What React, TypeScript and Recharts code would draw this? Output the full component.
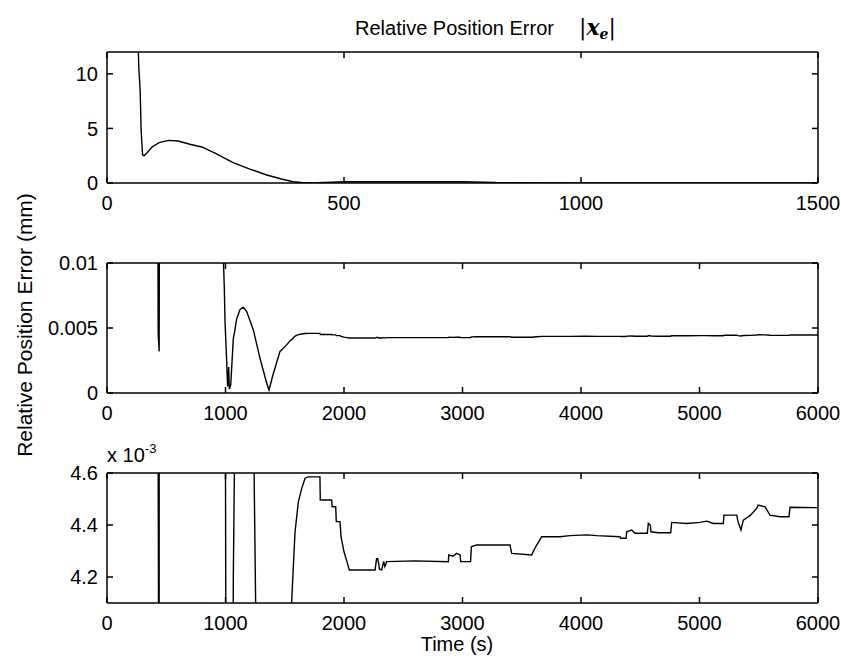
import { LineChart, Line, XAxis, YAxis } from "recharts";

// time (s) and relative position error (mm), one shared trace for all three panels
const timeS = [
  0, 60, 65, 67, 70, 72, 75, 78, 85, 95, 110, 130, 150, 175, 200, 230, 266, 300, 337, 370, 393, 410,
  424, 432, 440, 446, 500, 750, 820, 976, 990, 996, 1010, 1018, 1027, 1032, 1044, 1066, 1075, 1094,
  1122, 1150, 1179, 1235, 1291, 1348, 1367, 1404, 1460, 1516, 1545, 1558, 1573, 1587, 1615, 1643,
  1671, 1699, 1797, 1800, 1896, 1900, 1930, 1935, 1966, 1975, 2000, 2025, 2045, 2262, 2275, 2285,
  2300, 2318, 2335, 2345, 2360, 2600, 2880, 2885, 2920, 2950, 2980, 2985, 3068, 3075, 3120, 3401,
  3415, 3584, 3603, 3626, 3668, 3823, 3907, 4048, 4132, 4329, 4335, 4380, 4386, 4428, 4456, 4560,
  4568, 4585, 4590, 4653, 4757, 4765, 4892, 5004, 5061, 5117, 5201, 5206, 5314, 5325, 5350, 5370,
  5426, 5483, 5495, 5553, 5595, 5679, 5755, 5764, 5975, 6000,
];
const errorMm = [
  40, 16, 14, 10.6, 8.5, 4.85, 2.6, 2.5, 2.8, 3.3, 3.7, 3.9, 3.85, 3.55, 3.3, 2.7, 1.87, 1.3, 0.73,
  0.34, 0.12, 0.05, 0.03, 0.0046, 0.0032, 0.03, 0.12, 0.12, 0.04, 0.012, 0.0081, 0.0055, 0.0024,
  0.0005, 0.002, 0.0003, 0.0006, 0.0042, 0.0046, 0.0057, 0.0064, 0.0066, 0.00626, 0.00485, 0.00267,
  0.00075, 0.00023, 0.0015, 0.0032, 0.0037, 0.00402, 0.0041, 0.004246, 0.004374, 0.00449, 0.00454,
  0.00458, 0.004585, 0.004585, 0.004496, 0.004496, 0.00447, 0.00447, 0.004413, 0.004413, 0.004355,
  0.004297, 0.004259, 0.004227, 0.004227, 0.00427, 0.00427, 0.00423, 0.004227, 0.00426, 0.00424,
  0.004259, 0.004262, 0.004259, 0.004285, 0.00428, 0.004291, 0.004285, 0.004259, 0.004259, 0.004317,
  0.004323, 0.004323, 0.004291, 0.004285, 0.004304, 0.004323, 0.004355, 0.004355, 0.004359, 0.004362,
  0.004359, 0.004355, 0.004349, 0.004349, 0.004374, 0.004381, 0.004368, 0.004368, 0.004406, 0.0044,
  0.004374, 0.00437, 0.00437, 0.00441, 0.004406, 0.00441, 0.004415, 0.004406, 0.004406, 0.004438,
  0.004438, 0.004413, 0.004381, 0.004419, 0.004436, 0.004464, 0.004477, 0.00447, 0.004438, 0.004432,
  0.004432, 0.004468, 0.004467, 0.004467,
];

const topXTicks = [0, 500, 1000, 1500];
const topYTicks = [0, 5, 10];
const fullXTicks = [0, 1000, 2000, 3000, 4000, 5000, 6000];
const midYTicks = [0, 0.005, 0.01];
const lowYTicks = [0.0042, 0.0044, 0.0046];

const rows = timeS.map((t, i) => ({ t, e: errorMm[i] }));

const font = "'Liberation Sans', Arial, sans-serif";
const tickStyle = { fill: "#000", fontSize: 20, fontFamily: font };
const lineStyle = { stroke: "#000", strokeWidth: 1.5 };
const PLOT_LEFT = 107;
const PLOT_RIGHT = 818;
const PLOT_W = PLOT_RIGHT - PLOT_LEFT;

type PanelProps = {
  top: number;
  plotHeight: number;
  xMax: number;
  xTicks: number[];
  yDomain: [number, number];
  yTicks: number[];
  yFmt?: (v: number) => string;
};

function Panel({ top, plotHeight, xMax, xTicks, yDomain, yTicks, yFmt }: PanelProps) {
  return (
    <div style={{ position: "absolute", left: 0, top: top - 10 }}>
      <LineChart width={841} height={plotHeight + 50} data={rows}
        margin={{ top: 10, right: 841 - PLOT_RIGHT, bottom: 0, left: PLOT_LEFT - 60 }}>
        <XAxis dataKey="t" type="number" domain={[0, xMax]} ticks={xTicks} interval={0} allowDataOverflow
          height={40} tickSize={-6} tickMargin={19} axisLine={lineStyle} tickLine={lineStyle} tick={tickStyle} />
        <YAxis type="number" domain={yDomain} ticks={yTicks} interval={0} allowDataOverflow width={60}
          tickSize={-6} tickMargin={15} tickFormatter={yFmt} axisLine={lineStyle} tickLine={lineStyle} tick={tickStyle} />
        <Line dataKey="e" type="linear" stroke="#000" strokeWidth={1.4} dot={false} isAnimationActive={false} />
      </LineChart>
    </div>
  );
}

// top and right edges of the matlab box, with inward ticks
function BoxEdges({ top, plotHeight, xMax, xTicks, yDomain, yTicks }: PanelProps) {
  const bottom = top + plotHeight;
  const [y0, y1] = yDomain;
  return (
    <g stroke="#000" strokeWidth={1.5}>
      <line x1={PLOT_LEFT} x2={PLOT_RIGHT} y1={top} y2={top} />
      <line x1={PLOT_RIGHT} x2={PLOT_RIGHT} y1={top} y2={bottom} />
      {xTicks.map((v) => {
        const x = PLOT_LEFT + (v / xMax) * PLOT_W;
        return <line key={v} x1={x} x2={x} y1={top} y2={top + 6} />;
      })}
      {yTicks.map((v) => {
        const y = bottom - ((v - y0) / (y1 - y0)) * plotHeight;
        return <line key={v} x1={PLOT_RIGHT - 6} x2={PLOT_RIGHT} y1={y} y2={y} />;
      })}
    </g>
  );
}

const panels: PanelProps[] = [
  { top: 52, plotHeight: 131, xMax: 1500, xTicks: topXTicks, yDomain: [0, 12], yTicks: topYTicks },
  { top: 263, plotHeight: 130, xMax: 6000, xTicks: fullXTicks, yDomain: [0, 0.01], yTicks: midYTicks },
  {
    top: 473, plotHeight: 130, xMax: 6000, xTicks: fullXTicks, yDomain: [0.0041, 0.0046], yTicks: lowYTicks,
    yFmt: (v) => (v * 1000).toFixed(1),
  },
];

export default function App() {
  return (
    <div style={{ position: "absolute", left: 0, top: 0, width: 841, height: 664, background: "#fff" }}>
      {panels.map((p) => (
        <Panel key={p.top} {...p} />
      ))}
      <svg width={841} height={664} style={{ position: "absolute", left: 0, top: 0, pointerEvents: "none" }}>
        {panels.map((p) => (
          <BoxEdges key={p.top} {...p} />
        ))}
        <text x={355} y={35} fontSize={20} fontFamily={font}>Relative Position Error</text>
        <text x={579} y={35} fontSize={22} fontFamily="'DejaVu Serif', serif">
          <tspan>|</tspan>
          <tspan fontWeight="bold" fontStyle="italic">x</tspan>
          <tspan fontSize={14} fontStyle="italic" fontWeight="bold" dy={4}>e</tspan>
          <tspan dy={-4}>|</tspan>
        </text>
        <text transform="translate(32, 325) rotate(-90)" textAnchor="middle" fontSize={21} fontFamily={font}>
          Relative Position Error (mm)
        </text>
        <text x={107} y={462} fontSize={20} fontFamily={font}>
          x 10<tspan fontSize={13} dy={-9}>-3</tspan>
        </text>
        <text x={457} y={651} textAnchor="middle" fontSize={20} fontFamily={font}>Time (s)</text>
      </svg>
    </div>
  );
}
